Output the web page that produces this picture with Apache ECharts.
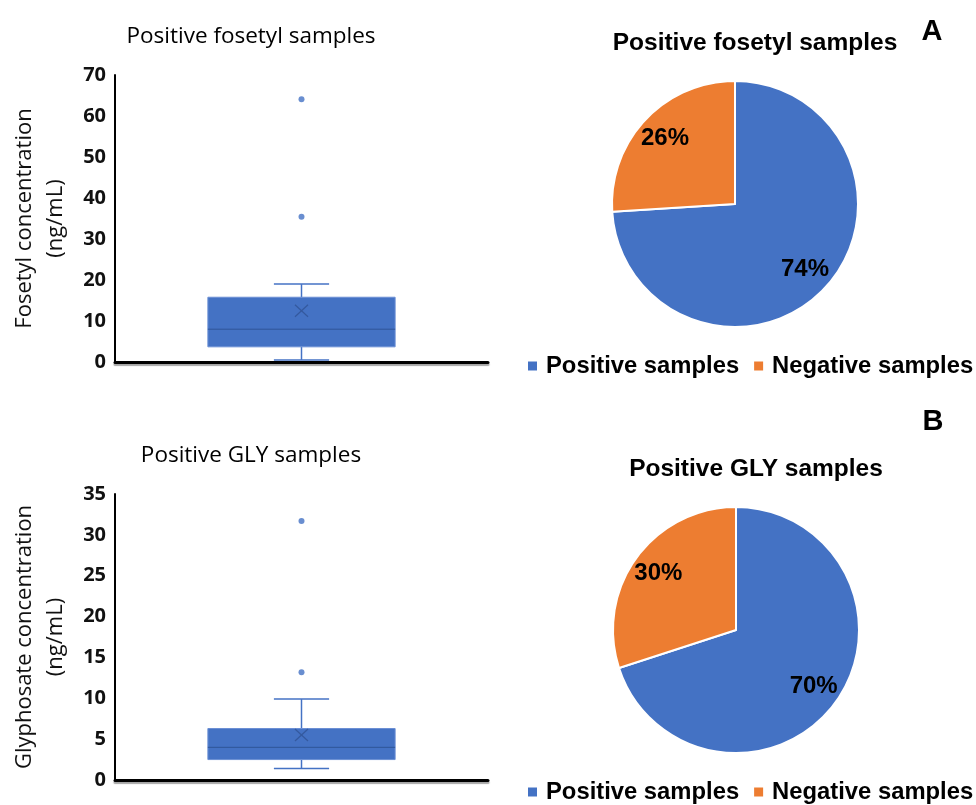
<!DOCTYPE html>
<html><head><meta charset="utf-8">
<script src="https://cdn.jsdelivr.net/npm/echarts@6/dist/echarts.min.js"></script>
<style>html,body{margin:0;padding:0;background:#fff}#c{width:976px;height:805px}</style>
</head><body><div id="c"></div>
<script>
// ---- data ----
const boxCategory = ['Samples'];
// [min whisker, Q1, median, Q3, max whisker, mean]
const fosetylBox = [0.5, 3.7, 8.0, 15.8, 19.0, 12.5];
const fosetylOutliers = [35.4, 64.1];
const glyBox = [1.4, 2.5, 4.0, 6.3, 9.9, 5.5];
const glyOutliers = [13.2, 31.7];
const fosetylAxis = {min: 0, max: 70, interval: 10};
const glyAxis = {min: 0, max: 35, interval: 5};
const pieNames = ['Positive samples', 'Negative samples'];
const fosetylPie = [74, 26];
const glyPie = [70, 30];
const pieColors = ['#4472C4', '#ED7D31'];

const BLUE = '#4472C4';
const SANS = "'Open Sans', sans-serif";
const ARIAL = "'Liberation Sans', Arial, sans-serif";

function boxRender(params, api) {
  const xi = api.value(0);
  const cx = api.coord([xi, 0])[0];
  const band = api.size([1, 0])[0];
  const y = i => api.coord([xi, api.value(i)])[1];
  const bw = band * 0.502, cw = band * 0.148;
  const wl = {stroke: BLUE, lineWidth: 1.5};
  return {type: 'group', children: [
    {type: 'line', shape: {x1: cx, y1: y(1), x2: cx, y2: y(2)}, style: wl},
    {type: 'line', shape: {x1: cx, y1: y(4), x2: cx, y2: y(5)}, style: wl},
    {type: 'line', shape: {x1: cx - cw / 2, y1: y(1), x2: cx + cw / 2, y2: y(1)}, style: wl},
    {type: 'line', shape: {x1: cx - cw / 2, y1: y(5), x2: cx + cw / 2, y2: y(5)}, style: wl},
    {type: 'rect', shape: {x: cx - bw / 2, y: y(4), width: bw, height: y(2) - y(4)},
      style: {fill: BLUE, stroke: '#6B8FD4', lineWidth: 1}},
    {type: 'line', shape: {x1: cx - bw / 2, y1: y(3), x2: cx + bw / 2, y2: y(3)},
      style: {stroke: '#2F5597', lineWidth: 1}},
    {type: 'line', shape: {x1: cx - 6.5, y1: y(6) - 6, x2: cx + 6.5, y2: y(6) + 6},
      style: {stroke: '#34599E', lineWidth: 1.2}},
    {type: 'line', shape: {x1: cx - 6.5, y1: y(6) + 6, x2: cx + 6.5, y2: y(6) - 6},
      style: {stroke: '#34599E', lineWidth: 1.2}}
  ]};
}

function makeXAxis(gi) {
  return {type: 'category', gridIndex: gi, data: boxCategory, boundaryGap: true,
    axisLine: {lineStyle: {color: '#000', width: 3, shadowColor: 'rgba(0,0,0,0.35)', shadowOffsetY: 2, shadowBlur: 1}},
    axisTick: {show: false}, axisLabel: {show: false}};
}
function makeYAxis(gi, ax, name) {
  return {type: 'value', gridIndex: gi, min: ax.min, max: ax.max, interval: ax.interval,
    name: name, nameLocation: 'middle', nameRotate: 90, nameGap: 44,
    nameTextStyle: {fontFamily: SANS, fontSize: 22, color: '#111', lineHeight: 31},
    axisLine: {show: true, lineStyle: {color: '#000', width: 2}},
    axisTick: {show: false}, splitLine: {show: false},
    axisLabel: {fontFamily: SANS, fontWeight: 'bold', fontSize: 20, color: '#111', margin: 9}};
}

function pieSeries(center, values) {
  const data = values.map((v, i) => ({name: pieNames[i], value: v, itemStyle: {color: pieColors[i]}}));
  return [
    {type: 'pie', center: center, radius: 123, startAngle: 90, clockwise: true, silent: true,
      data: data, label: {show: false}, labelLine: {show: false},
      itemStyle: {borderColor: '#fff', borderWidth: 2}, emphasis: {disabled: true}},
    {type: 'pie', center: center, radius: [0, 186], startAngle: 90, clockwise: true, silent: true,
      data: values.map((v, i) => ({name: pieNames[i], value: v})),
      itemStyle: {color: 'rgba(0,0,0,0)', borderWidth: 0}, emphasis: {disabled: true},
      label: {show: true, position: 'inside', formatter: '{c}%', fontFamily: ARIAL, fontWeight: 'bold',
        fontSize: 24, color: '#000', textBorderWidth: 0}, labelLine: {show: false}}
  ];
}

function legend(top) {
  return {data: pieNames, left: 526, top: top, width: 470, padding: 0, itemWidth: 11, itemHeight: 11, itemGap: 13,
    icon: 'rect', selectedMode: false,
    textStyle: {fontFamily: ARIAL, fontWeight: 'bold', fontSize: 23.8, color: '#000', lineHeight: 24, padding: [0, 0, 0, 3]}};
}

function title(text, x, y, font, size, weight) {
  return {text: text, left: x, top: y, padding: 0, textAlign: 'center', textVerticalAlign: 'middle',
    textStyle: {fontFamily: font, fontSize: size, fontWeight: weight, color: '#000'}};
}

const chart = echarts.init(document.getElementById('c'), null, {renderer: 'canvas'});
chart.setOption({
  animation: false,
  backgroundColor: '#fff',
  title: [
    title('Positive fosetyl samples', 251, 37, SANS, 22.5, 'normal'),
    title('Positive GLY samples', 251, 456, SANS, 22.5, 'normal'),
    title('Positive fosetyl samples', 755, 43, ARIAL, 24.5, 'bold'),
    title('Positive GLY samples', 756, 469, ARIAL, 24.5, 'bold'),
    title('A', 932, 32, ARIAL, 29, 'bold'),
    title('B', 933, 422, ARIAL, 29, 'bold')
  ],
  legend: [legend(354), legend(780)],
  grid: [
    {left: 115, right: 488, top: 75, bottom: 443, outerBoundsMode: 'none', containLabel: false},
    {left: 115, right: 488, top: 494, bottom: 25, outerBoundsMode: 'none', containLabel: false}
  ],
  xAxis: [makeXAxis(0), makeXAxis(1)],
  yAxis: [makeYAxis(0, fosetylAxis, 'Fosetyl concentration\n(ng/mL)'),
          makeYAxis(1, glyAxis, 'Glyphosate concentration\n(ng/mL)')],
  series: [
    {type: 'custom', xAxisIndex: 0, yAxisIndex: 0, renderItem: boxRender, silent: true,
      encode: {x: 0, y: [1, 2, 3, 4, 5, 6]}, data: [[0].concat(fosetylBox)]},
    {type: 'scatter', xAxisIndex: 0, yAxisIndex: 0, symbolSize: 6, silent: true,
      itemStyle: {color: BLUE}, data: fosetylOutliers.map(v => [0, v])},
    {type: 'custom', xAxisIndex: 1, yAxisIndex: 1, renderItem: boxRender, silent: true,
      encode: {x: 0, y: [1, 2, 3, 4, 5, 6]}, data: [[0].concat(glyBox)]},
    {type: 'scatter', xAxisIndex: 1, yAxisIndex: 1, symbolSize: 6, silent: true,
      itemStyle: {color: BLUE}, data: glyOutliers.map(v => [0, v])}
  ].concat(pieSeries([735, 204], fosetylPie), pieSeries([736, 630], glyPie))
});
</script></body></html>
